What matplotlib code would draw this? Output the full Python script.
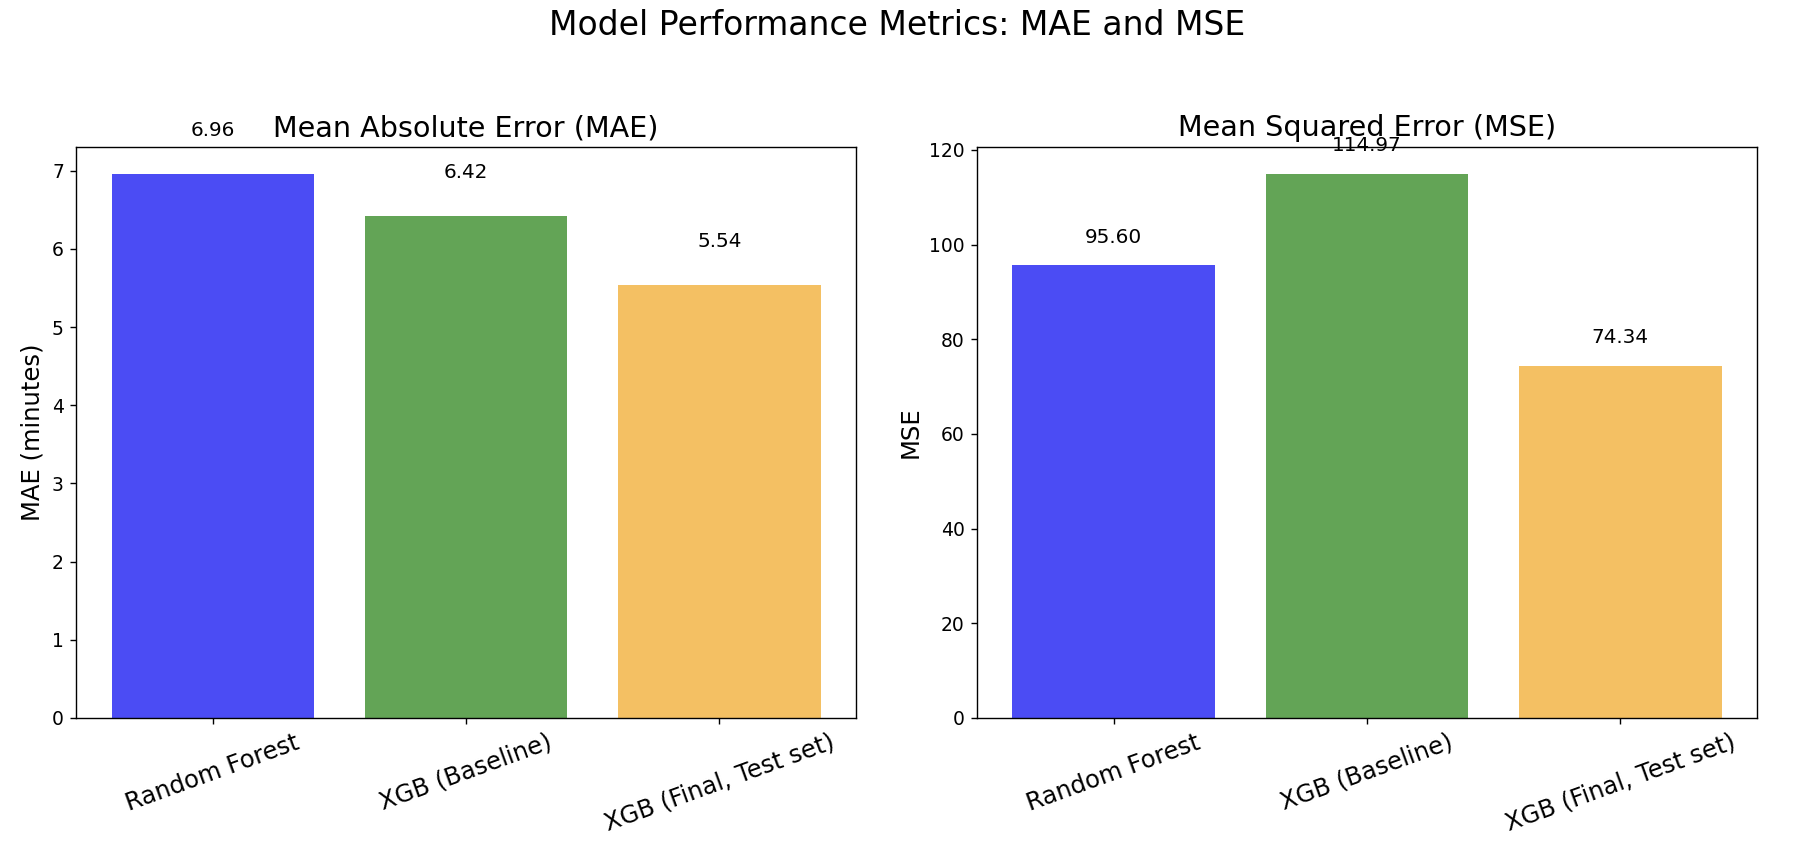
import matplotlib
matplotlib.use("Agg")
import matplotlib.pyplot as plt

models = ['Random Forest', 'XGB (Baseline)', 'XGB (Final, Test set)']
mae_values = [6.96, 6.42, 5.54]
mse_values = [95.60, 114.97, 74.34]
bar_colors = ['#4b4cf4', '#63a456', '#f4c063']


def main():
    fig, (ax1, ax2) = plt.subplots(1, 2, figsize=(14.352, 6.912), dpi=125)
    fig.subplots_adjust(left=0.0424, right=0.9794, bottom=0.169, top=0.8304, wspace=0.155)

    # MAE
    ax1.bar(models, mae_values, color=bar_colors)
    ax1.set_title('Mean Absolute Error (MAE)', fontsize=16.5)
    ax1.set_ylabel('MAE (minutes)', fontsize=14)
    for i, v in enumerate(mae_values):
        ax1.text(i, v + 0.435, f'{v:.2f}', ha='center', va='bottom', fontsize=11.5)

    # MSE
    ax2.bar(models, mse_values, color=bar_colors)
    ax2.set_title('Mean Squared Error (MSE)', fontsize=16.5)
    ax2.set_ylabel('MSE', fontsize=14)
    for i, v in enumerate(mse_values):
        ax2.text(i, v + 4, f'{v:.2f}', ha='center', va='bottom', fontsize=11.5)

    for ax in (ax1, ax2):
        ax.tick_params(axis='x', labelsize=14, labelrotation=20)
        ax.tick_params(axis='y', labelsize=10.8)

    fig.suptitle('Model Performance Metrics: MAE and MSE', fontsize=19, y=0.99)
    fig.savefig('out.png', dpi=125)


if __name__ == "__main__":
    main()
